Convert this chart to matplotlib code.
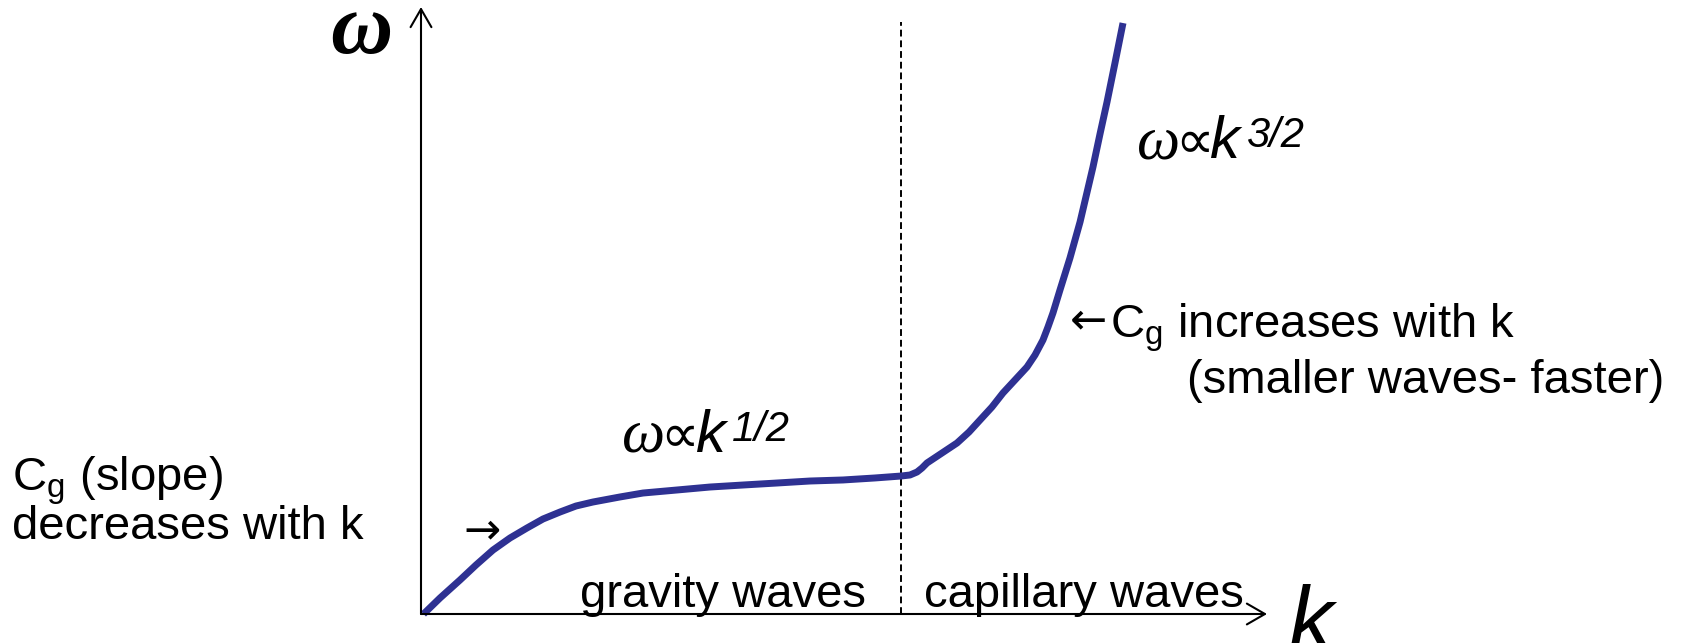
import matplotlib.pyplot as plt

# dispersion relation of water waves, schematic units
k = [0.03, 0.225, 0.461, 0.650, 0.851, 1.052, 1.253, 1.442, 1.643, 1.832, 2.033,
     2.352, 2.624, 3.026, 3.416, 3.806, 4.208, 4.598, 4.988, 5.366, 5.674,
     5.780, 5.863, 5.922, 5.981, 6.158, 6.336, 6.478, 6.608, 6.749, 6.879,
     7.021, 7.163, 7.258, 7.352, 7.411, 7.470, 7.553, 7.671, 7.790, 7.943,
     8.026, 8.109, 8.203, 8.298]
omega = [0.0, 0.264, 0.560, 0.807, 1.054, 1.252, 1.417, 1.565, 1.680, 1.779, 1.845,
         1.928, 1.993, 2.043, 2.092, 2.125, 2.158, 2.191, 2.208, 2.241, 2.273,
         2.290, 2.339, 2.405, 2.488, 2.652, 2.817, 2.998, 3.196, 3.410, 3.641,
         3.855, 4.069, 4.267, 4.514, 4.728, 4.959, 5.338, 5.865, 6.458, 7.364,
         7.908, 8.435, 9.077, 9.736]
k_transition = 5.67
k_max, omega_max = 10, 10

curve_color = '#2E3192'
sans = ['Liberation Sans', 'DejaVu Sans']
serif = ['Liberation Serif', 'DejaVu Serif']
text_size = 34

fig = plt.figure(figsize=(16.84, 6.43), dpi=100)
ax = fig.add_axes([421 / 1684, 29 / 643, 846 / 1684, 607 / 643])
ax.set_xlim(0, k_max)
ax.set_ylim(0, omega_max)
ax.axis('off')

# axes drawn as arrows
arrow = dict(arrowstyle='->,head_length=1.3,head_width=0.75', lw=1.5,
             color='black', shrinkA=0, shrinkB=0)
ax.annotate('', xy=(k_max, 0), xytext=(0, 0), arrowprops=arrow)
ax.annotate('', xy=(0, omega_max), xytext=(0, 0), arrowprops=arrow)

# gravity / capillary boundary
ax.plot([k_transition, k_transition], [0, 9.75], color='black', lw=1.4,
        linestyle=(0, (3.5, 2)), clip_on=False)

ax.plot(k, omega, color=curve_color, lw=5, solid_capstyle='butt',
        solid_joinstyle='round', clip_on=False)

# axis labels
ax.text(-0.70, 9.24, 'ω', family=serif, style='italic', weight='bold',
        fontsize=62, ha='center', va='baseline')
ax.text(10.26, -0.58, 'k', family=sans, style='italic', fontsize=64, ha='left', va='baseline')


def power_law(x, y, exponent):
    ax.text(x, y, 'ω', family=serif, style='italic', fontsize=44, va='baseline')
    ax.text(x + 0.45, y, '∝', family='DejaVu Sans', fontsize=39, va='baseline')
    ax.text(x + 0.87, y, 'k', family=sans, style='italic', fontsize=43, va='baseline')
    ax.text(x + 1.29, y + 0.18, exponent, family=sans, style='italic', fontsize=30, va='baseline')


power_law(2.38, 2.67, '1/2')
power_law(8.46, 7.51, '3/2')

ax.text(1.88, 0.115, 'gravity waves', family=sans, fontsize=text_size, va='baseline')
ax.text(5.95, 0.115, 'capillary waves', family=sans, fontsize=text_size, va='baseline')

ax.text(-4.84, 2.04, r'C$_\mathregular{g}$ (slope)', family=sans, fontsize=text_size, va='baseline')
ax.text(-4.84, 1.24, 'decreases with k', family=sans, fontsize=text_size, va='baseline')
ax.text(0.50, 1.17, '→', family='DejaVu Sans', fontsize=32, va='baseline')

ax.text(7.67, 4.63, '←', family='DejaVu Sans', fontsize=32, va='baseline')
ax.text(8.14, 4.56, r'C$_\mathregular{g}$ increases with k', family=sans, fontsize=text_size, va='baseline')
ax.text(9.05, 3.64, '(smaller waves- faster)', family=sans, fontsize=text_size, va='baseline')

fig.savefig('out.png', dpi=100)
